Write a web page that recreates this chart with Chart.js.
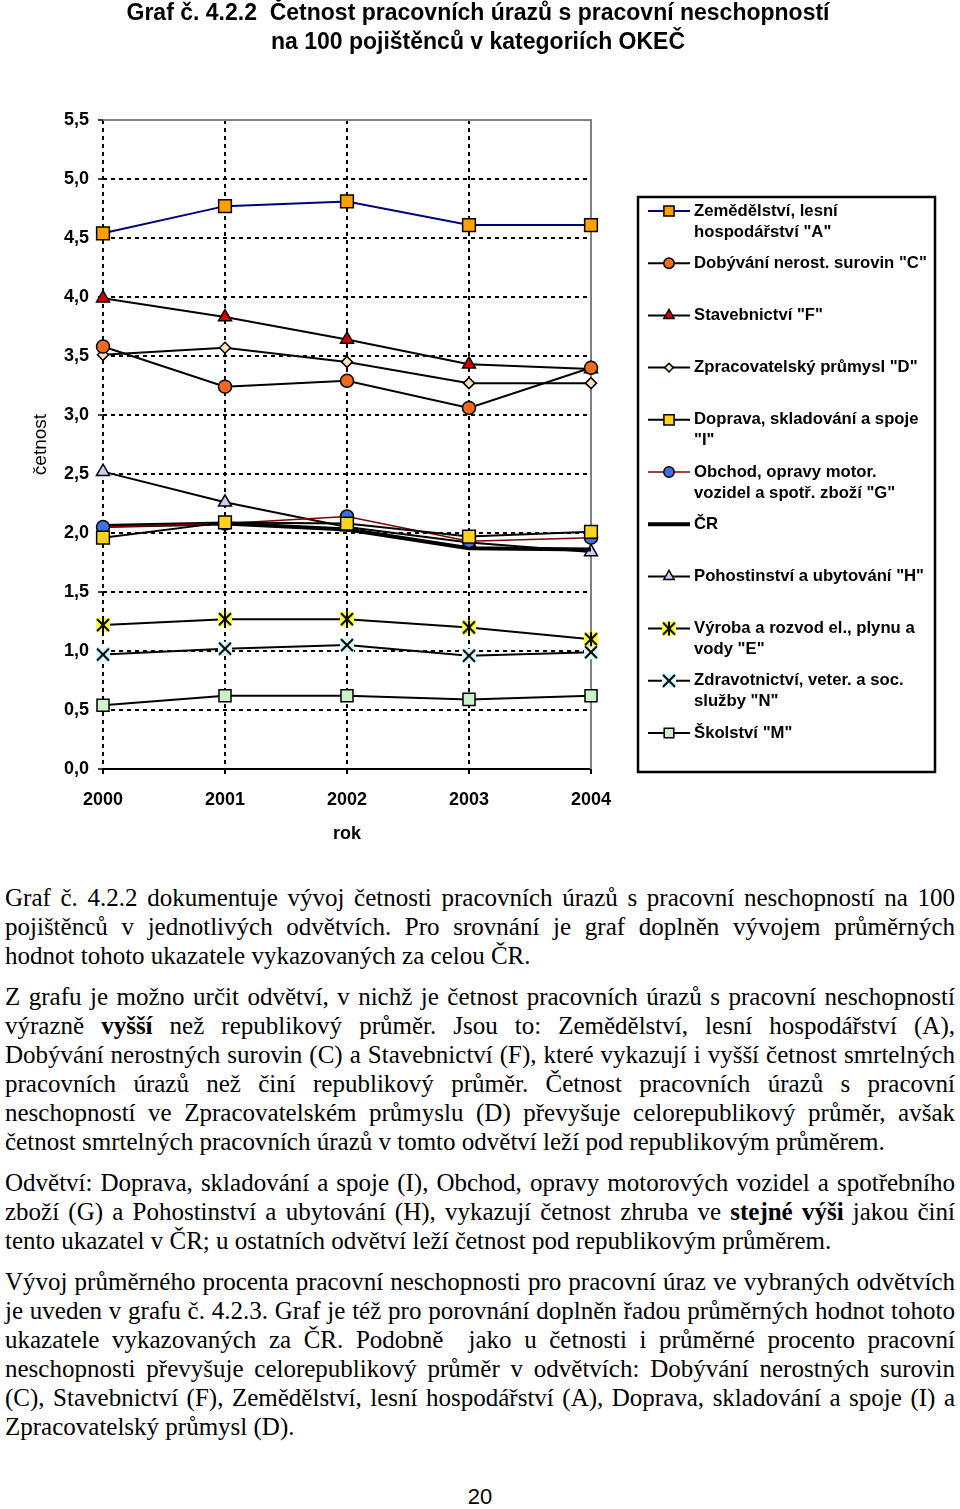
<!DOCTYPE html>
<html>
<head>
<meta charset="utf-8">
<script src="https://cdn.jsdelivr.net/npm/chart.js@4/dist/chart.umd.min.js"></script>
<style>
  body { margin: 0; background: #fff; }
  #page { position: relative; width: 960px; height: 1509px; overflow: hidden; }
  .title { position: absolute; left: 0; width: 956px; text-align: center;
           font: bold 23px "Liberation Sans", Arial, sans-serif; color: #000; }
  #chartBox { position: absolute; left: 0; top: 0; width: 960px; height: 860px; }
  #text { position: absolute; left: 5px; top: 883px; width: 950px;
          font: 25px "Liberation Serif", "Times New Roman", serif; line-height: 29px; color: #000; }
  #text p { margin: 0 0 12px 0; }
  #text span { display: block; text-align: justify; text-align-last: justify; white-space: nowrap; }
  #text span.last { text-align-last: left; }
  #pageno { position: absolute; left: 0; width: 960px; top: 1484px; text-align: center;
            font: 22px "Liberation Sans", Arial, sans-serif; }
</style>
</head>
<body>
<div id="page">
  <div id="chartBox"><canvas id="myChart" width="960" height="860"></canvas></div>
  <div class="title" style="top:-1px">Graf č. 4.2.2&nbsp; Četnost pracovních úrazů s pracovní neschopností</div>
  <div class="title" style="top:28px">na 100 pojištěnců v kategoriích OKEČ</div>
  <div id="text">
    <p>
      <span>Graf č. 4.2.2 dokumentuje vývoj četnosti pracovních úrazů s&nbsp;pracovní neschopností na 100</span>
      <span>pojištěnců v&nbsp;jednotlivých odvětvích. Pro srovnání je graf doplněn vývojem průměrných</span>
      <span class="last">hodnot tohoto ukazatele vykazovaných za celou ČR.</span>
    </p>
    <p>
      <span>Z grafu je možno určit odvětví, v nichž je četnost pracovních úrazů s pracovní neschopností</span>
      <span>výrazně <b>vyšší</b> než republikový průměr. Jsou to: Zemědělství, lesní hospodářství (A),</span>
      <span>Dobývání nerostných surovin (C) a Stavebnictví (F), které vykazují i vyšší četnost smrtelných</span>
      <span>pracovních úrazů než činí republikový průměr. Četnost pracovních úrazů s&nbsp;pracovní</span>
      <span>neschopností ve Zpracovatelském průmyslu (D) převyšuje celorepublikový průměr, avšak</span>
      <span class="last">četnost smrtelných pracovních úrazů v tomto odvětví leží pod republikovým průměrem.</span>
    </p>
    <p>
      <span>Odvětví: Doprava, skladování a spoje (I), Obchod, opravy motorových vozidel a spotřebního</span>
      <span>zboží (G) a Pohostinství a ubytování (H), vykazují četnost zhruba ve <b>stejné výši</b> jakou činí</span>
      <span class="last">tento ukazatel v ČR; u ostatních odvětví leží četnost pod republikovým průměrem.</span>
    </p>
    <p>
      <span>Vývoj průměrného procenta pracovní neschopnosti pro pracovní úraz ve vybraných odvětvích</span>
      <span>je uveden v grafu č. 4.2.3. Graf je též pro porovnání doplněn řadou průměrných hodnot tohoto</span>
      <span>ukazatele vykazovaných za ČR. Podobně&nbsp; jako u četnosti i průměrné procento pracovní</span>
      <span>neschopnosti převyšuje celorepublikový průměr v&nbsp;odvětvích: Dobývání nerostných surovin</span>
      <span>(C), Stavebnictví (F), Zemědělství, lesní hospodářství (A), Doprava, skladování a spoje (I) a</span>
      <span class="last">Zpracovatelský průmysl (D).</span>
    </p>
  </div>
  <div id="pageno">20</div>
</div>
<script>
// data
var years = ['2000', '2001', '2002', '2003', '2004'];

var zemedelstvi    = [4.54, 4.77, 4.81, 4.61, 4.61];
var dobyvani       = [3.58, 3.24, 3.29, 3.06, 3.40];
var stavebnictvi   = [3.99, 3.83, 3.64, 3.43, 3.39];
var zpracovatelsky = [3.51, 3.57, 3.45, 3.27, 3.27];
var doprava        = [1.96, 2.09, 2.08, 1.97, 2.01];
var obchod         = [2.05, 2.08, 2.14, 1.93, 1.96];
var cr             = [2.06, 2.08, 2.03, 1.87, 1.86];
var pohostinstvi   = [2.52, 2.26, 2.05, 1.92, 1.84];
var vyroba         = [1.22, 1.27, 1.27, 1.20, 1.10];
var zdravotnictvi  = [0.97, 1.02, 1.05, 0.96, 0.99];
var skolstvi       = [0.54, 0.62, 0.62, 0.59, 0.62];

var yMin = 0, yMax = 5.5, yStep = 0.5;

// small marker images for the star and x markers (filled box behind)
function markerImage(bg, star) {
  var c = document.createElement('canvas');
  c.width = 16; c.height = 16;
  var g = c.getContext('2d');
  g.fillStyle = bg;
  g.fillRect(1, 1, 14, 14);
  g.strokeStyle = '#000';
  g.lineWidth = 2;
  g.beginPath();
  g.moveTo(2, 2); g.lineTo(14, 14);
  g.moveTo(14, 2); g.lineTo(2, 14);
  if (star) { g.moveTo(8, 1); g.lineTo(8, 15); }
  g.stroke();
  return c;
}
var starImg = markerImage('#FFFF33', true);
var crossImg = markerImage('#D6FAFA', false);

function series(label, data, line, fill, style, radius, width) {
  return {
    label: label, data: data,
    borderColor: line, borderWidth: width || 2,
    pointStyle: style, pointRadius: radius, pointHoverRadius: radius,
    pointBackgroundColor: fill, pointBorderColor: '#000', pointBorderWidth: 1.5,
    tension: 0, fill: false
  };
}

var datasets = [
  series('Zemědělství, lesní\nhospodářství "A"', zemedelstvi, '#000080', '#FFA000', 'rect', 9),
  series('Dobývání nerost. surovin "C"', dobyvani, '#000', '#F26A1E', 'circle', 6.5),
  series('Stavebnictví "F"', stavebnictvi, '#000', '#D40000', 'triangle', 7.5),
  series('Zpracovatelský průmysl "D"', zpracovatelsky, '#000', '#FFE2BA', 'rectRot', 5.5),
  series('Doprava, skladování a spoje\n"I"', doprava, '#000', '#FFD21F', 'rect', 9),
  series('Obchod, opravy motor.\nvozidel a spotř. zboží "G"', obchod, '#800000', '#3F6FE8', 'circle', 6.5, 1.5),
  series('ČR', cr, '#000', '#000', 'circle', 0, 4),
  series('Pohostinství a ubytování "H"', pohostinstvi, '#000', '#CCCCF2', 'triangle', 7.5),
  series('Výroba a rozvod el., plynu a\nvody "E"', vyroba, '#000', '#FFFF33', starImg, 8),
  series('Zdravotnictví, veter. a soc.\nslužby "N"', zdravotnictvi, '#000', '#D6FAFA', crossImg, 8),
  series('Školství "M"', skolstvi, '#000', '#CCF2CC', 'rect', 8.5)
];

// gray frame on top and right of plot area
var framePlugin = {
  id: 'frame',
  beforeDatasetsDraw: function (chart) {
    var a = chart.chartArea, ctx = chart.ctx;
    ctx.save();
    ctx.strokeStyle = '#808080';
    ctx.lineWidth = 2;
    ctx.beginPath();
    ctx.moveTo(a.left, a.top);
    ctx.lineTo(a.right, a.top);
    ctx.lineTo(a.right, a.bottom);
    ctx.stroke();
    ctx.restore();
  }
};

// boxed legend on the right side
var boxLegend = {
  id: 'boxLegend',
  afterDraw: function (chart) {
    var ctx = chart.ctx;
    var x0 = 638, y0 = 197, w = 297, h = 575;
    ctx.save();
    ctx.strokeStyle = '#000';
    ctx.lineWidth = 2.5;
    ctx.strokeRect(x0, y0, w, h);
    ctx.font = 'bold 16.7px "Liberation Sans", Arial, sans-serif';
    ctx.textBaseline = 'middle';
    chart.data.datasets.forEach(function (ds, i) {
      var y = 211 + i * 52.2;
      ctx.strokeStyle = ds.borderColor;
      ctx.lineWidth = ds.borderWidth;
      ctx.beginPath();
      ctx.moveTo(648, y);
      ctx.lineTo(690, y);
      ctx.stroke();
      if (ds.pointRadius > 0) {
        ctx.fillStyle = ds.pointBackgroundColor;
        ctx.strokeStyle = '#000';
        ctx.lineWidth = 1.5;
        Chart.helpers.drawPoint(ctx, {
          pointStyle: ds.pointStyle, rotation: 0,
          radius: ds.pointRadius * 0.8, borderWidth: 1.5
        }, 669, y);
      }
      ctx.fillStyle = '#000';
      ds.label.split('\n').forEach(function (line, j) {
        ctx.fillText(line, 694, y + j * 21);
      });
    });
    ctx.restore();
  }
};

var ctx = document.getElementById('myChart').getContext('2d');
var myChart = new Chart(ctx, {
  type: 'line',
  data: { labels: years, datasets: datasets },
  plugins: [framePlugin, boxLegend],
  options: {
    responsive: false,
    animation: false,
    layout: { padding: { left: 0, right: 369, top: 120, bottom: 15 } },
    plugins: { legend: { display: false }, tooltip: { enabled: false } },
    scales: {
      x: {
        offset: false,
        afterFit: function (scale) { scale.height = 76; },
        grid: {
          color: '#000', lineWidth: 2,
          drawTicks: true, tickLength: 5, tickBorderDash: [], tickColor: '#000', tickWidth: 2
        },
        border: { display: true, color: '#000', width: 2, dash: [4, 4] },
        ticks: {
          padding: 15, color: '#000', maxRotation: 0,
          font: { family: '"Liberation Sans", Arial, sans-serif', size: 18, weight: 'bold' }
        },
        title: {
          display: true, text: 'rok', color: '#000', padding: { top: 12, bottom: 0 },
          font: { family: '"Liberation Sans", Arial, sans-serif', size: 18, weight: 'bold' }
        }
      },
      y: {
        min: yMin, max: yMax,
        afterFit: function (scale) { scale.width = 103; },
        grid: {
          color: '#000', lineWidth: 2,
          drawTicks: true, tickLength: 5, tickBorderDash: [], tickColor: '#000', tickWidth: 1.5
        },
        border: { display: false, dash: [4, 4] },
        ticks: {
          stepSize: yStep, padding: 9, color: '#000',
          font: { family: '"Liberation Sans", Arial, sans-serif', size: 18, weight: 'bold' },
          callback: function (v) { return v.toFixed(1).replace('.', ','); }
        },
        title: {
          display: true, text: 'četnost', color: '#000', padding: { top: 29, bottom: 0 },
          font: { family: '"Liberation Sans", Arial, sans-serif', size: 19, weight: 'normal' }
        }
      }
    }
  }
});
</script>
</body>
</html>
